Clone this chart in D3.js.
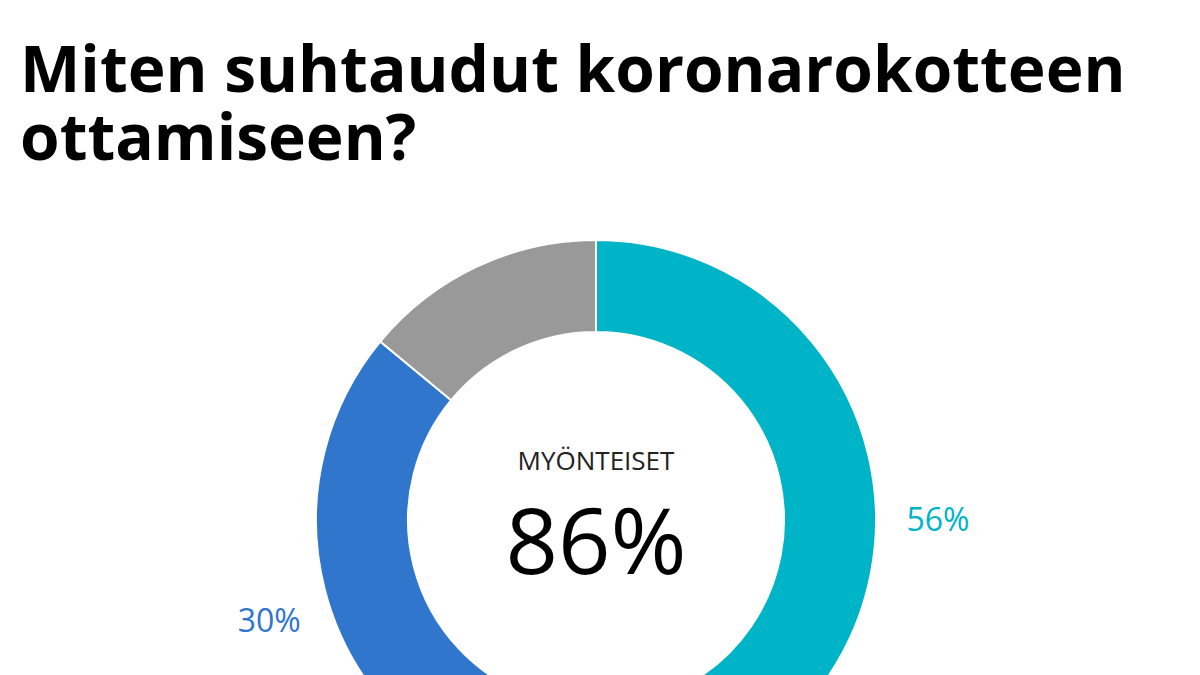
<!DOCTYPE html>
<html><head><meta charset="utf-8">
<script src="https://cdn.jsdelivr.net/npm/d3@7"></script>
<style>body{margin:0;background:#fff;}svg{display:block;font-family:"Open Sans",sans-serif;}</style>
</head><body><svg id="c" width="1200" height="675"></svg>
<script>
const categories = ["Ottaa varmasti", "Ottaa todennäköisesti", "Muut"];
const values = [56, 30, 14];
const labels = ["56%", "30%", ""];
const colors = ["#00b4c8", "#3076cc", "#999999"];
const centerTitle = "MYÖNTEISET";
const centerValue = "86%";

const svg = d3.select("#c");
svg.append("text").attr("x", 20).attr("y", 92).attr("font-size", 64).attr("font-weight", 700).attr("fill", "#000").text("Miten suhtaudut koronarokotteen");
svg.append("text").attr("x", 20).attr("y", 160).attr("font-size", 64).attr("font-weight", 700).attr("fill", "#000").text("ottamiseen?");

const cx = 596, cy = 520, R = 280, r = 188;
const g = svg.append("g").attr("transform", `translate(${cx},${cy})`);
const pie = d3.pie().sort(null)(values);
const arc = d3.arc().innerRadius(r).outerRadius(R);
g.selectAll("path").data(pie).join("path").attr("d", arc)
  .attr("fill", (d, i) => colors[i]).attr("stroke", "#fff").attr("stroke-width", 2);

// label angle: place beside the ring, horizontally offset
const labR = R + 62;
const labAngles = [Math.PI / 2, -Math.PI / 2 - 0.3, 0];
g.selectAll("text.l").data(pie).join("text").attr("class", "l")
  .attr("x", (d, i) => labR * Math.sin(labAngles[i]))
  .attr("y", (d, i) => -labR * Math.cos(labAngles[i]))
  .attr("text-anchor", "middle").attr("dy", "0.35em")
  .attr("font-size", 32).attr("fill", (d, i) => colors[i]).text((d, i) => labels[i]);

g.append("text").attr("y", -50).attr("text-anchor", "middle").attr("font-size", 26).attr("fill", "#222").text(centerTitle);
g.append("text").attr("y", 54).attr("text-anchor", "middle").attr("font-size", 92).attr("fill", "#000").text(centerValue);
</script></body></html>
